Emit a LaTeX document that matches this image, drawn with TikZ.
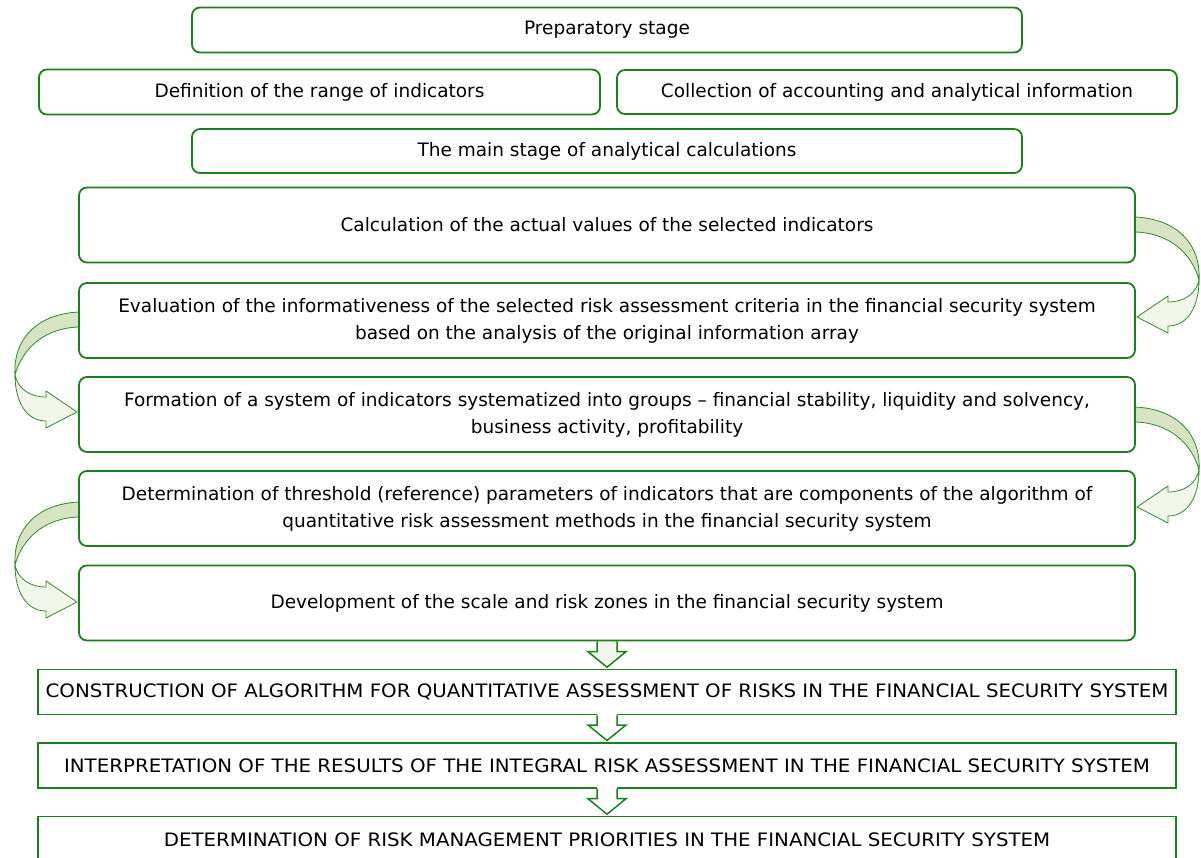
\documentclass[tikz,border=0pt]{standalone}
\usepackage{fontspec}
\setmainfont{DejaVu Sans}
\newfontfamily\capsfont{DejaVu Sans}[FakeStretch=1.07]
\usetikzlibrary{calc,backgrounds}
\definecolor{gline}{RGB}{30,125,30}
\definecolor{adark}{RGB}{215,228,196}
\definecolor{alight}{RGB}{242,246,234}
\definecolor{aline}{RGB}{50,135,45}
\newcommand\blockarr[4]{%
 \coordinate (ba1) at ([xshift=-10pt]#1.south);
 \coordinate (ba2) at ([xshift=10pt]#1.south);
 \coordinate (bh) at ([yshift=17pt]#2.north);
 \coordinate (bt) at ([yshift=1.5pt]#2.north);
 \fill[#3] ([yshift=#4]ba1) -- (ba1 |- bh) -- ++(-9,0) -- (bt) -- ($(ba2 |- bh)+(9,0)$) -- (ba2 |- bh) -- ([yshift=#4]ba2) -- cycle;
 \draw[gline, line width=1.5pt, line join=miter] (ba1) -- (ba1 |- bh) -- ++(-9,0) -- (bt) -- ($(ba2 |- bh)+(9,0)$) -- (ba2 |- bh) -- (ba2);
}
\newcommand\curvearr{%
 \filldraw[fill=adark, draw=aline, line width=0.8pt] (1135,217) .. controls (1178,219) and (1201,245) .. (1199,280) .. controls (1192,254) and (1170,233) .. (1135,232) -- cycle;
 \filldraw[fill=alight, draw=aline, line width=0.8pt] (1199,280) .. controls (1199,306) and (1188,326) .. (1168,326) -- (1168,333) -- (1137,317) -- (1168,296) -- (1168,302) .. controls (1184,302) and (1196,294) .. (1199,280) -- cycle;
}
\begin{document}
\begin{tikzpicture}[x=1pt,y=-1pt,
  rbox/.style={draw=gline, line width=1.8pt, rounded corners=8pt, fill=white, inner sep=0pt},
  sbox/.style={draw=gline, line width=1.6pt, fill=white, inner sep=0pt},
  txt/.style={font=\fontsize{18.5}{27}\selectfont, align=center},
  ctxt/.style={font=\capsfont\fontsize{18.5}{27}\selectfont, align=center}]
\useasboundingbox (0,0) rectangle (1201,858);
% curved arrows
\begin{scope}\curvearr\end{scope}
\begin{scope}[shift={(0,190)}]\curvearr\end{scope}
\begin{scope}[shift={(1214,95)}, xscale=-1]\curvearr\end{scope}
\begin{scope}[shift={(1214,285)}, xscale=-1]\curvearr\end{scope}
% boxes
\node[rbox, txt, minimum width=830pt, minimum height=45pt] (prep) at (607,30) {Preparatory stage};
\node[rbox, txt, minimum width=561pt, minimum height=45pt] (def) at (319.5,92) {Definition of the range of indicators};
\node[rbox, txt, minimum width=560pt, minimum height=44pt] (coll) at (897,92) {Collection of accounting and analytical information};
\node[rbox, txt, minimum width=830pt, minimum height=44pt] (main) at (607,151) {The main stage of analytical calculations};
\node[rbox, txt, minimum width=1056pt, minimum height=75pt] (calc) at (607,225) {Calculation of the actual values of the selected indicators};
\node[rbox, txt, minimum width=1056pt, minimum height=75pt] (eval) at (607,320.5) {Evaluation of the informativeness of the selected risk assessment criteria in the financial security system\\based on the analysis of the original information array};
\node[rbox, txt, minimum width=1056pt, minimum height=75pt] (form) at (607,414.5) {Formation of a system of indicators systematized into groups -- financial stability, liquidity and solvency,\\business activity, profitability};
\node[rbox, txt, minimum width=1056pt, minimum height=75pt] (thr) at (607,508.5) {Determination of threshold (reference) parameters of indicators that are components of the algorithm of\\quantitative risk assessment methods in the financial security system};
\node[rbox, txt, minimum width=1056pt, minimum height=75pt] (dev) at (607,603) {Development of the scale and risk zones in the financial security system};
\node[sbox, ctxt, minimum width=1137.5pt, minimum height=45pt] (cons) at (607,692) {CONSTRUCTION OF ALGORITHM FOR QUANTITATIVE ASSESSMENT OF RISKS IN THE FINANCIAL SECURITY SYSTEM};
\node[sbox, ctxt, minimum width=1137.5pt, minimum height=45pt] (interp) at (607,765.3) {INTERPRETATION OF THE RESULTS OF THE INTEGRAL RISK ASSESSMENT IN THE FINANCIAL SECURITY SYSTEM};
\node[sbox, ctxt, minimum width=1137.5pt, minimum height=46pt] (detm) at (607,839.5) {DETERMINATION OF RISK MANAGEMENT PRIORITIES IN THE FINANCIAL SECURITY SYSTEM};
% block arrows
\begin{pgfonlayer}{background}
\blockarr{dev}{cons}{alight}{0pt}
\end{pgfonlayer}
\blockarr{cons}{interp}{white}{2pt}
\blockarr{interp}{detm}{white}{2pt}
\end{tikzpicture}
\end{document}
